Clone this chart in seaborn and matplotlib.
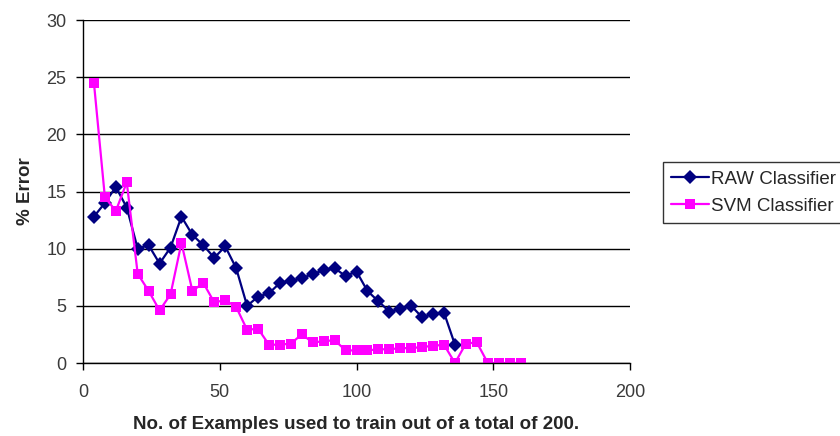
import matplotlib
matplotlib.use("Agg")
import matplotlib.pyplot as plt
from matplotlib.lines import Line2D
import seaborn as sns
import pandas as pd

raw_x = list(range(4, 137, 4))
raw_y = [12.8, 14.0, 15.4, 13.6, 10.0, 10.3, 8.7, 10.1, 12.8, 11.2, 10.3, 9.2, 10.2, 8.3,
         5.0, 5.8, 6.1, 7.0, 7.2, 7.4, 7.8, 8.1, 8.3, 7.6, 8.0, 6.3, 5.4, 4.5, 4.7, 5.0,
         4.0, 4.3, 4.4, 1.6]
svm_x = list(range(4, 161, 4))
svm_y = [24.5, 14.5, 13.3, 15.8, 7.8, 6.3, 4.6, 6.0, 10.5, 6.3, 7.0, 5.3, 5.5, 4.9,
         2.9, 3.0, 1.6, 1.6, 1.7, 2.5, 1.8, 1.9, 2.0, 1.1, 1.1, 1.1, 1.2, 1.2, 1.3, 1.3,
         1.4, 1.5, 1.6, 0.0, 1.7, 1.8, 0.0, 0.0, 0.0, 0.0]
series_names = ["RAW Classifier", "SVM Classifier"]
x_ticks = [0, 50, 100, 150, 200]
y_ticks = [0, 5, 10, 15, 20, 25, 30]

df = pd.concat([
    pd.DataFrame({"x": raw_x, "y": raw_y, "series": series_names[0]}),
    pd.DataFrame({"x": svm_x, "y": svm_y, "series": series_names[1]}),
])

sns.set_style("white")
plt.rcParams["font.family"] = ["Liberation Sans", "DejaVu Sans"]

fig = plt.figure(figsize=(8.4, 4.36), dpi=100)
ax = fig.add_axes([83/840, 1-363/436, (630-83)/840, (363-20)/436])

colors = {series_names[0]: "#000080", series_names[1]: "#FF00FF"}
markers = {series_names[0]: "D", series_names[1]: "s"}
sns.lineplot(data=df, x="x", y="y", hue="series", style="series",
             palette=colors, markers=markers,
             dashes=False, markersize=7.5, linewidth=1.6, markeredgewidth=0,
             ax=ax, legend=False)

ax.set_xlim(0, 200)
ax.set_ylim(0, 30)
ax.set_xticks(x_ticks)
ax.set_yticks(y_ticks)
ax.yaxis.grid(True, color="black", linewidth=1.0)
ax.set_axisbelow(True)
for s in ["top", "right"]:
    ax.spines[s].set_visible(False)
for s in ["left", "bottom"]:
    ax.spines[s].set_color("black")
    ax.spines[s].set_linewidth(1.0)
ax.tick_params(axis="both", direction="out", length=5, width=1, color="black",
               labelsize=13, labelcolor="#3a3a3a", bottom=True, left=True)
ax.tick_params(axis="x", pad=10)
ax.tick_params(axis="y", pad=7)

ax.set_xlabel("No. of Examples used to train out of a total of 200.", fontsize=13.5,
              fontweight="bold", labelpad=11)
ax.set_ylabel("% Error", fontsize=13.5, fontweight="bold", labelpad=9)

handles = [Line2D([], [], color=colors[n], marker=markers[n], markersize=7.5,
                  linewidth=1.6, markeredgewidth=0) for n in series_names]
leg = fig.legend(handles, series_names, loc="upper left",
                 bbox_to_anchor=(663/840, 1-162/436), fontsize=13.5, frameon=True,
                 fancybox=False, edgecolor="black", handlelength=2.0, handletextpad=0.1,
                 borderpad=0.45, labelspacing=0.55, borderaxespad=0)
leg.get_frame().set_linewidth(1.0)

fig.savefig("out.png", dpi=100)
